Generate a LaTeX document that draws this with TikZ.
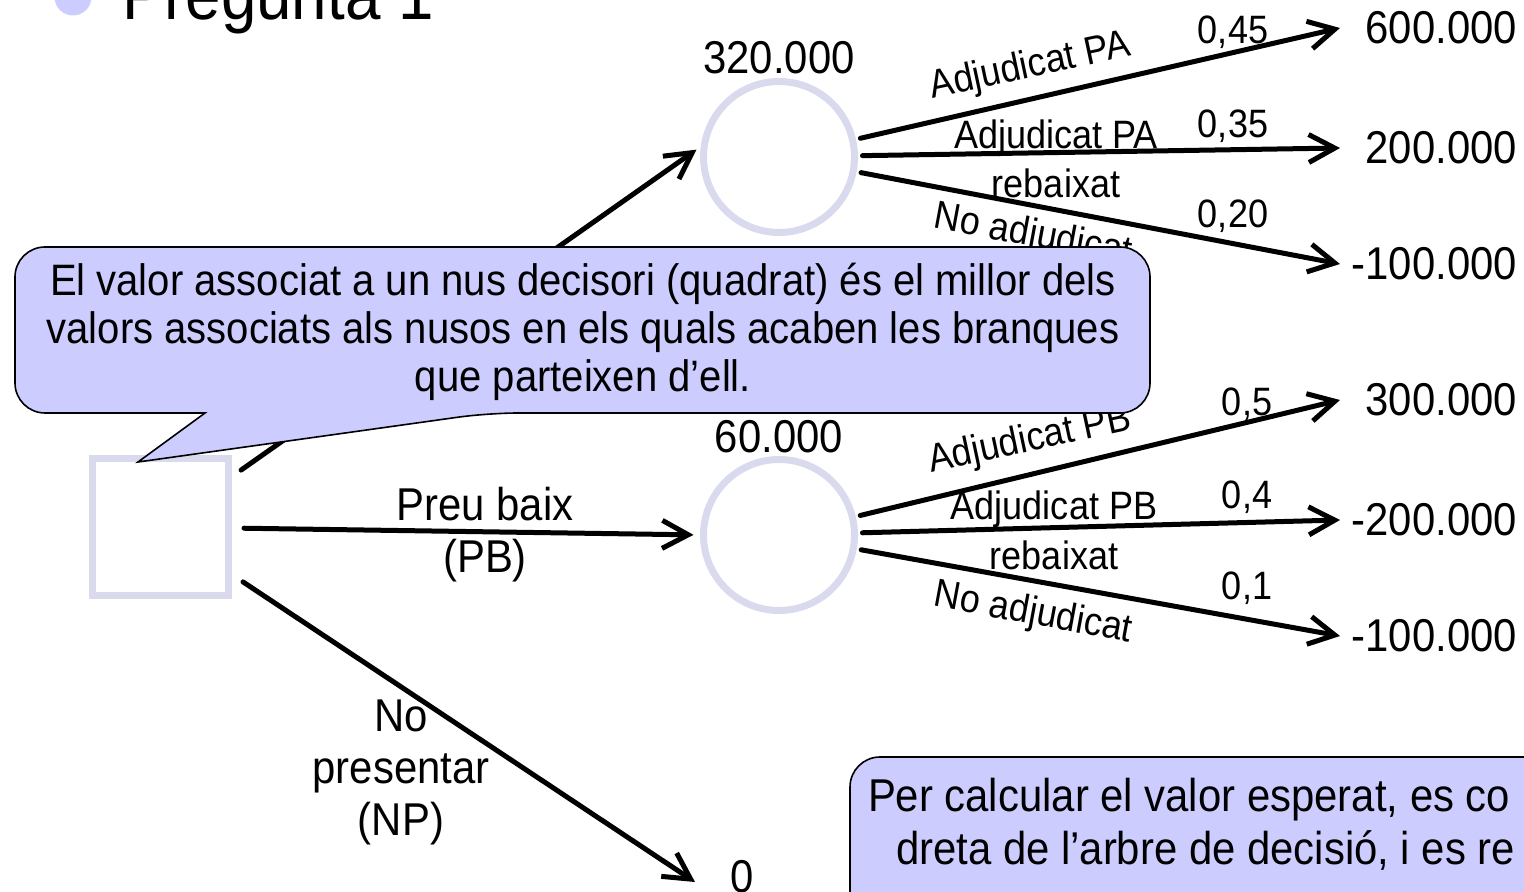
\documentclass[tikz,border=0pt]{standalone}
\usepackage{fontspec}
\setmainfont[FakeStretch=0.91]{Liberation Sans}
\usetikzlibrary{arrows.meta}
\definecolor{lila}{RGB}{204,204,255}
\definecolor{vora}{RGB}{218,218,238}

\begin{document}
\begin{tikzpicture}[x=0.5pt, y=-0.5pt,
    every node/.style={inner sep=0pt, outer sep=0pt},
    decisio/.style={rectangle, draw=vora, line width=3.5pt, fill=white, minimum size=68pt},
    atzar/.style={circle, draw=vora, line width=3.5pt, fill=white, minimum size=75.5pt},
    branca/.style={line width=2.5pt, line cap=round, -{Straight Barb[length=13pt, width=14pt]}},
    valor/.style={font=\fontsize{23}{27}\selectfont, text width=88.5pt, align=right, anchor=west},
    etiq/.style={font=\fontsize{19.8}{24}\selectfont},
    gran/.style={font=\fontsize{23}{26}\selectfont, align=center},
    bafarada/.style={fill=lila, draw=black, line width=0.8pt}]
      \useasboundingbox (0,0) rectangle (1524,892);
      \clip (0,0) rectangle (1524,892);

      % Titol
      \fill[lila] (73,-3) circle[radius=9.25pt];
      \node[anchor=base west, font=\fontsize{35}{40}\selectfont] (titol) at (122,20) {Pregunta 1};

      % Nusos
      \node[decisio] (D) at (160,527) {};
      \node[atzar] (C1) at (779,157) {};
      \node[atzar] (C2) at (779,535) {};
      \node[gran] (vC1) at (779,58) {320.000};
      \node[gran] (vC2) at (779,437) {60.000};
      \node[gran] (zero) at (742,877) {0};
      \coordinate (fiNP) at (695,882);

      % Resultats
      \node[valor] (v11) at (1340,28) {600.000};
      \node[valor] (v12) at (1340,148) {200.000};
      \node[valor] (v13) at (1340,264) {-100.000};
      \node[valor] (v21) at (1340,400) {300.000};
      \node[valor] (v22) at (1340,520) {-200.000};
      \node[valor] (v23) at (1340,636) {-100.000};

      % Branques del nus decisori
      \draw[branca, shorten <=8pt, shorten >=5pt] (D) -- (C1.170);
      \draw[branca, shorten <=8pt, shorten >=5pt] (D) -- (C2.west);
      \draw[branca, shorten <=9pt] (D) -- (fiNP);
      \node[gran] (PB) at (485,535) {Preu baix\\(PB)};
      \node[gran] (NP) at (401,772) {No\\presentar\\(NP)};

      % Branques dels nusos d'atzar
      \foreach \c/\v in {C1/v11, C1/v12, C1/v13, C2/v21, C2/v22, C2/v23}
        \draw[branca, shorten <=4pt] (\c) -- (\v.west);

      % Etiquetes PA
      \node[etiq, rotate=12] (eA1) at (1030,67) {Adjudicat PA};
      \node[etiq] (pA1) at (1233,32) {0,45};
      \node[etiq] (eA2) at (1056,138) {Adjudicat PA};
      \node[etiq] (eA2b) at (1056,183) {rebaixat};
      \node[etiq] (pA2) at (1233,126) {0,35};
      \node[etiq, rotate=-10.5] (eA3) at (1033,236) {No adjudicat};
      \node[etiq] (pA3) at (1233,216) {0,20};

      % Etiquetes PB
      \node[etiq, rotate=12] (eB1) at (1030,441) {Adjudicat PB};
      \node[etiq] (pB1) at (1247,404) {0,5};
      \node[etiq] (eB2) at (1054,509) {Adjudicat PB};
      \node[etiq] (eB2b) at (1054,555) {rebaixat};
      \node[etiq] (pB2) at (1247,497) {0,4};
      \node[etiq, rotate=-10.5] (eB3) at (1033,614) {No adjudicat};
      \node[etiq] (pB3) at (1247,588) {0,1};

      % Bafarades
      \draw[bafarada] (205,413) [rounded corners=15pt] -- (15,413) -- (15,247) -- (1150,247)
        -- (1150,413) -- (488,413) [sharp corners] -- (138,462) -- cycle;
      \node[font=\fontsize{22}{24}\selectfont, align=center] (nota1) at (583,332)
        {El valor associat a un nus decisori (quadrat) és el millor dels\\valors associats als nusos en els quals acaben les branques\\que parteixen d’ell.};
      \draw[bafarada, rounded corners=15pt] (850,757) rectangle (1700,1000);
      \node[font=\fontsize{23}{27}\selectfont, anchor=west] (nota2a) at (868,800) {Per calcular el valor esperat, es co};
      \node[font=\fontsize{23}{27}\selectfont, anchor=west] (nota2b) at (896,851) {dreta de l’arbre de decisió, i es re};
    \end{tikzpicture}
\end{document}
